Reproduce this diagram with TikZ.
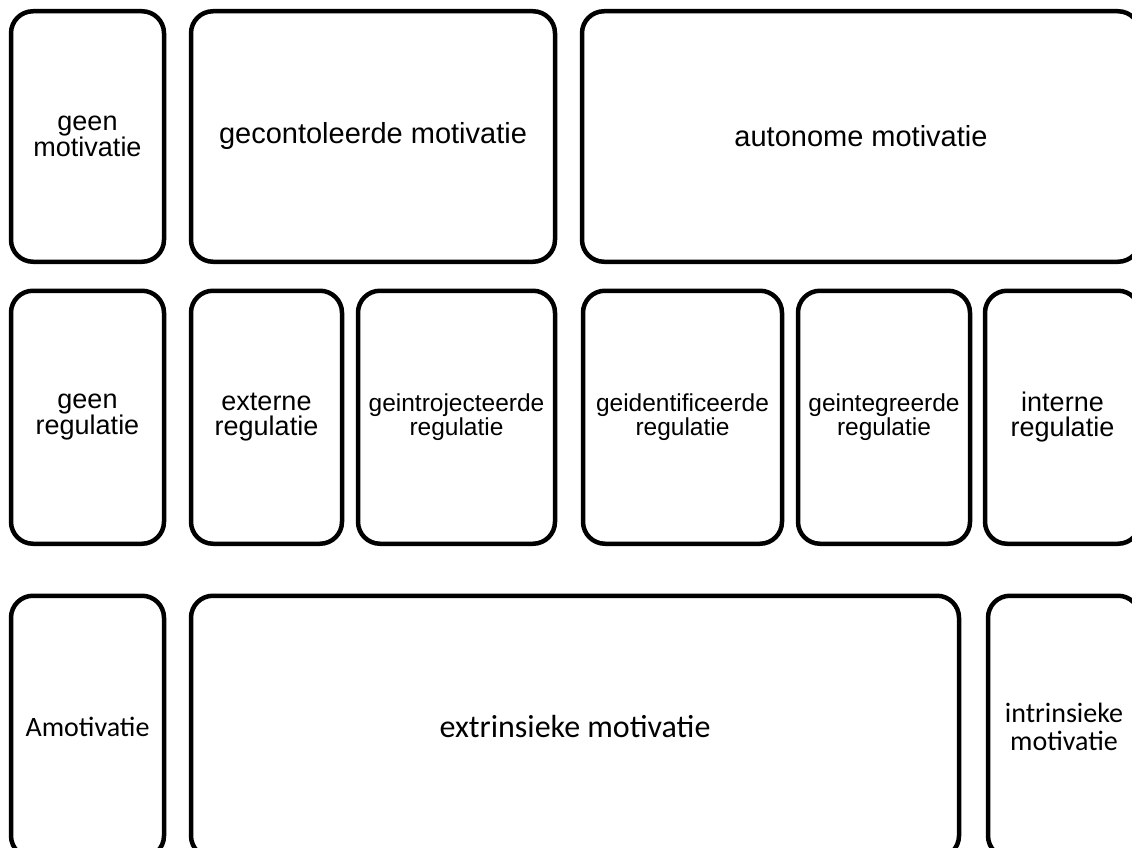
\documentclass[tikz,border=0pt]{standalone}
\usepackage{fontspec}
\setmainfont{Liberation Sans}
\newfontfamily\carlito{Carlito}
\usetikzlibrary{positioning}

\tikzset{
  blok/.style={draw, line width=4.5pt, rounded corners=22pt, outer sep=0pt, inner sep=0pt, align=center},
  groot/.style={font=\fontsize{29}{28}\selectfont},
  middel/.style={font=\fontsize{27}{25}\selectfont},
  klein/.style={font=\fontsize{24.5}{23.5}\selectfont},
  onder/.style={font=\carlito\fontsize{28}{27.5}\selectfont},
  ondergroot/.style={font=\carlito\fontsize{32}{31}\selectfont}
}

\begin{document}
\begin{tikzpicture}
  \useasboundingbox (0,0) rectangle (1132pt,-848pt);
  % motivatie
  \node[blok, middel, minimum width=153pt, minimum height=250.5pt] (geenmot) at (87.5pt,-136.5pt) {geen\\motivatie};
  \node[blok, groot, minimum width=364pt, minimum height=250.5pt, right=27pt of geenmot] (gecmot) {gecontoleerde motivatie};
  \node[blok, groot, minimum width=558pt, minimum height=250.5pt, right=27pt of gecmot] (automot) {autonome motivatie};
  % regulatie
  \node[blok, middel, minimum width=153pt, minimum height=253pt, below=29pt of geenmot] (geenreg) {geen\\regulatie};
  \node[blok, middel, minimum width=151pt, minimum height=253pt, right=27pt of geenreg] (extreg) {externe\\regulatie};
  \node[blok, klein, minimum width=197pt, minimum height=253pt, right=16pt of extreg] (introreg) {geintrojecteerde\\regulatie};
  \node[blok, klein, minimum width=199pt, minimum height=253pt, right=28pt of introreg] (identreg) {geidentificeerde\\regulatie};
  \node[blok, klein, minimum width=172pt, minimum height=253pt, right=16pt of identreg] (integreg) {geintegreerde\\regulatie};
  \node[blok, middel, minimum width=155pt, minimum height=253pt, right=15pt of integreg] (internreg) {interne\\regulatie};
  % onderste rij
  \node[blok, onder, minimum width=153pt, minimum height=262pt, below=52pt of geenreg] (amot) {Amotivatie};
  \node[blok, ondergroot, minimum width=768pt, minimum height=262pt, right=27pt of amot] (extrmot) {extrinsieke motivatie};
  \node[blok, onder, minimum width=152pt, minimum height=262pt, right=29pt of extrmot] (intrmot) {intrinsieke\\motivatie};
\end{tikzpicture}
\end{document}
